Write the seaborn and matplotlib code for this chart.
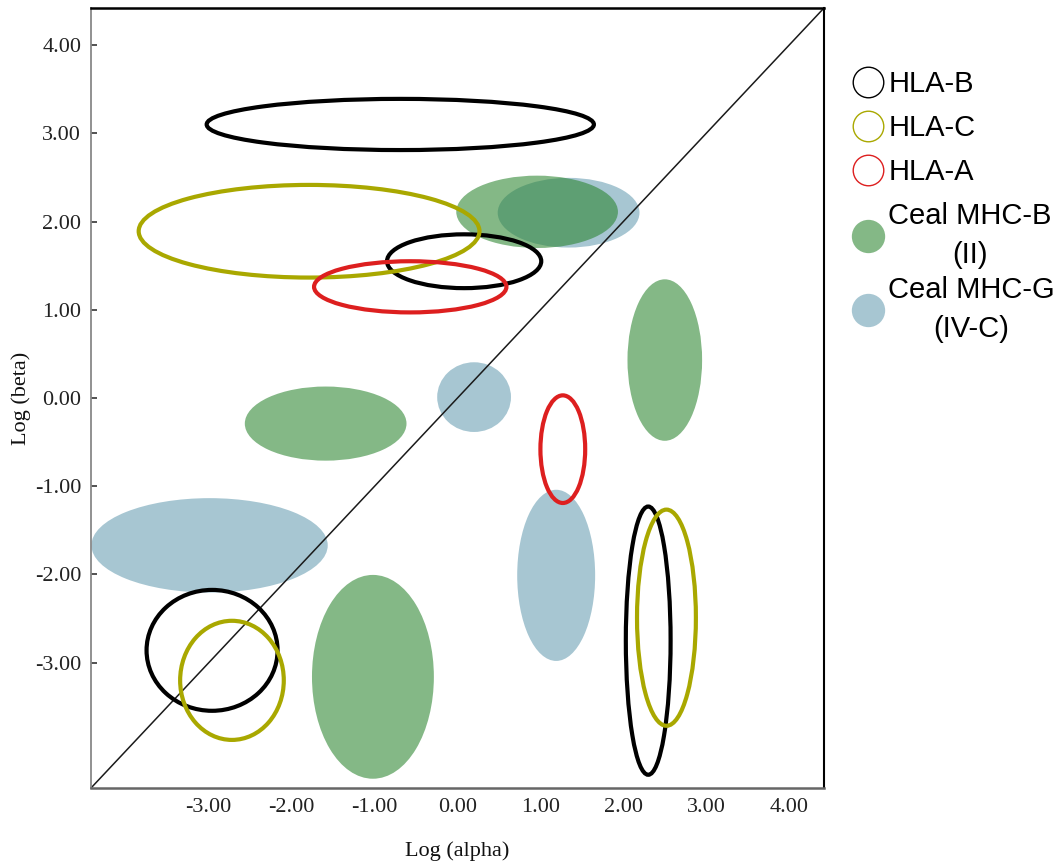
import numpy as np
import pandas as pd
import matplotlib
matplotlib.use("Agg")
import matplotlib.pyplot as plt
from matplotlib.patches import Ellipse
from matplotlib.lines import Line2D
from matplotlib.ticker import FormatStrFormatter, FixedLocator
import seaborn as sns

# ---------------- data (log alpha / log beta ellipses) ----------------
hla_b_x = [-0.69, 0.08, -2.96, 2.30]
hla_b_y = [3.10, 1.55, -2.86, -2.75]
hla_b_w = [4.67, 1.86, 1.58, 0.54]
hla_b_h = [0.58, 0.61, 1.37, 3.04]

hla_c_x = [-1.79, -2.72, 2.52]
hla_c_y = [1.89, -3.20, -2.49]
hla_c_w = [4.11, 1.25, 0.71]
hla_c_h = [1.05, 1.35, 2.45]

hla_a_x = [-0.57, 1.27]
hla_a_y = [1.26, -0.58]
hla_a_w = [2.32, 0.54]
hla_a_h = [0.58, 1.22]

mhc_b_x = [0.96, 2.50, -1.59, -1.02]
mhc_b_y = [2.11, 0.43, -0.29, -3.16]
mhc_b_w = [1.95, 0.90, 1.95, 1.47]
mhc_b_h = [0.82, 1.83, 0.84, 2.31]

mhc_g_x = [1.34, 0.20, -2.99, 1.19]
mhc_g_y = [2.10, 0.01, -1.67, -2.01]
mhc_g_w = [1.71, 0.89, 2.85, 0.94]
mhc_g_h = [0.79, 0.79, 1.07, 1.94]

x_ticks = [-3, -2, -1, 0, 1, 2, 3, 4]
y_ticks = [-3, -2, -1, 0, 1, 2, 3, 4]
axis_lim = [-4.42, 4.42]

legend_labels = ["HLA-B", "HLA-C", "HLA-A", "Ceal MHC-B\n(II)", "Ceal MHC-G\n(IV-C)"]

# ---------------- style ----------------
sns.set_theme(style="white")
plt.rcParams["font.family"] = ["Liberation Serif", "DejaVu Serif"]
plt.rcParams["axes.unicode_minus"] = False

COL_B = "#000000"
COL_C = "#a9a800"
COL_A = "#dd1f1f"
COL_G_MHCB = (39 / 255, 130 / 255, 43 / 255, 0.57)
COL_G_MHCG = (100 / 255, 155 / 255, 176 / 255, 0.57)

fig = plt.figure(figsize=(10.62, 8.65), dpi=100)
ax = fig.add_axes([91 / 1062, 1 - 788 / 865, (824 - 91) / 1062, (788 - 8) / 865])

# filled ellipses (blue first, green on top)
for x, y, w, h in zip(mhc_g_x, mhc_g_y, mhc_g_w, mhc_g_h):
    ax.add_patch(Ellipse((x, y), w, h, facecolor=COL_G_MHCG, edgecolor="none", zorder=1))
for x, y, w, h in zip(mhc_b_x, mhc_b_y, mhc_b_w, mhc_b_h):
    ax.add_patch(Ellipse((x, y), w, h, facecolor=COL_G_MHCB, edgecolor="none", zorder=1))

# diagonal reference line (y = x)
diag = pd.DataFrame({"a": axis_lim, "b": axis_lim})
sns.lineplot(data=diag, x="a", y="b", color="#1a1a1a", lw=1.1, ax=ax, zorder=2)

# outline ellipses
for xs, ys, ws, hs, col in [
    (hla_b_x, hla_b_y, hla_b_w, hla_b_h, COL_B),
    (hla_c_x, hla_c_y, hla_c_w, hla_c_h, COL_C),
    (hla_a_x, hla_a_y, hla_a_w, hla_a_h, COL_A),
]:
    for x, y, w, h in zip(xs, ys, ws, hs):
        ax.add_patch(Ellipse((x, y), w, h, facecolor="none", edgecolor=col, lw=3.0, zorder=3))

ax.set_xlim(axis_lim)
ax.set_ylim(axis_lim)
ax.xaxis.set_major_locator(FixedLocator(x_ticks))
ax.yaxis.set_major_locator(FixedLocator(y_ticks))
ax.xaxis.set_major_formatter(FormatStrFormatter("%.2f"))
ax.yaxis.set_major_formatter(FormatStrFormatter("%.2f"))
ax.tick_params(axis="x", length=0, pad=7, labelsize=16, labelcolor="#222222")
ax.tick_params(axis="y", direction="in", length=4, width=1.2, color="#333333",
               left=True, pad=7, labelsize=16, labelcolor="#222222")

ax.set_xlabel("Log (alpha)", fontsize=16, color="#111111", labelpad=18)
ax.set_ylabel("Log (beta)", fontsize=16, color="#111111", labelpad=3)

for side, col, lw in [("left", "#888888", 1.3), ("bottom", "#666666", 1.8),
                      ("top", "#000000", 1.8), ("right", "#000000", 1.5)]:
    ax.spines[side].set_visible(True)
    ax.spines[side].set_color(col)
    ax.spines[side].set_linewidth(lw)

# legend
handles = [
    Line2D([], [], ls="none", marker="o", ms=22, mfc="none", mec=COL_B, mew=1.0),
    Line2D([], [], ls="none", marker="o", ms=22, mfc="none", mec=COL_C, mew=1.0),
    Line2D([], [], ls="none", marker="o", ms=22, mfc="none", mec=COL_A, mew=1.0),
    Line2D([], [], ls="none", marker="o", ms=24, mfc=COL_G_MHCB, mec="none"),
    Line2D([], [], ls="none", marker="o", ms=24, mfc=COL_G_MHCG, mec="none"),
]
leg_kw = dict(loc="upper left", bbox_transform=fig.transFigure,
              frameon=False, borderpad=0, borderaxespad=0, handlelength=1.1,
              handletextpad=0.14, labelspacing=0.55,
              prop={"family": ["Liberation Sans", "DejaVu Sans"], "size": 21})
leg1 = ax.legend(handles[:4], legend_labels[:4],
                 bbox_to_anchor=(852 / 1062, 1 - 70 / 865), **leg_kw)
ax.add_artist(leg1)
leg2 = ax.legend(handles[4:], legend_labels[4:],
                 bbox_to_anchor=(852 / 1062, 1 - 276 / 865), **leg_kw)
for leg in (leg1, leg2):
    for t in leg.get_texts():
        t.set_multialignment("center")
        t.set_linespacing(1.5)
        t.set_color("#000000")

fig.savefig("out.png", dpi=100)
